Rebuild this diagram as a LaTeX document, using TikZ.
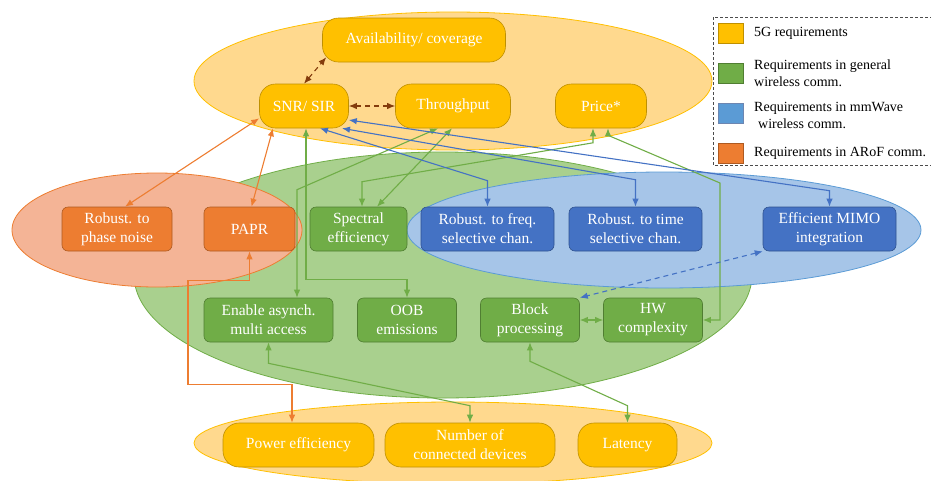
\documentclass[tikz,border=0pt]{standalone}
\usepackage{fontspec}
\setmainfont{Liberation Serif}
\usetikzlibrary{arrows.meta}
\definecolor{gold}{HTML}{FFC000}
\definecolor{golddark}{HTML}{BF9000}
\definecolor{goldzone}{HTML}{FFD98E}
\definecolor{leaf}{HTML}{70AD47}
\definecolor{leafdark}{HTML}{507E32}
\definecolor{leafzone}{HTML}{A9D08E}
\definecolor{sky}{HTML}{5B9BD5}
\definecolor{skyzone}{HTML}{A6C5E8}
\definecolor{navy}{HTML}{4472C4}
\definecolor{navydark}{HTML}{2F528F}
\definecolor{rust}{HTML}{ED7D31}
\definecolor{rustdark}{HTML}{AE5A21}
\definecolor{rustzone}{HTML}{F4B496}
\definecolor{brownline}{HTML}{843C0C}
\begin{document}
\begin{tikzpicture}[x=1pt,y=-1pt,
    req/.style={minimum height=44pt,inner sep=0pt,align=center,text=white,
        font=\fontsize{15.5}{19}\selectfont,line width=0.6pt},
    req5g/.style={req,fill=gold,draw=golddark,rounded corners=16pt},
    reqgen/.style={req,fill=leaf,draw=leafdark,rounded corners=6pt},
    reqmm/.style={req,fill=navy,draw=navydark,rounded corners=6pt},
    reqarof/.style={req,fill=rust,draw=rustdark,rounded corners=6pt},
    zone/.style={line width=0.8pt},
    link/.style={line width=1.1pt,{Latex[length=8pt,width=6.5pt]}-{Latex[length=8pt,width=6.5pt]}},
    dashlink/.style={link,dash pattern=on 5pt off 4pt},
    swatch/.style={minimum width=25pt,minimum height=20pt,inner sep=0pt,line width=0.6pt},
    legtext/.style={anchor=west,align=left,inner sep=0pt,font=\fontsize{14}{17}\selectfont}]
    \useasboundingbox (0,0) rectangle (931,480);

    % groups
    \draw[zone,fill=goldzone,draw=gold] (453,81) ellipse [x radius=259,y radius=69];
    \draw[zone,fill=goldzone,draw=gold] (453,443) ellipse [x radius=259,y radius=41];
    \draw[zone,fill=leafzone,draw=leaf] (443,275) ellipse [x radius=309,y radius=123];
    \draw[zone,fill=rustzone,draw=rust] (157,230) ellipse [x radius=145,y radius=57];
    \draw[zone,fill=skyzone,draw=sky] (664,230) ellipse [x radius=257,y radius=58];

    % 5G requirements
    \node[req5g,minimum width=183pt] (avail) at (414,40) {Availability/ coverage};
    \node[req5g,minimum width=89pt] (snr) at (304,106) {SNR/ SIR};
    \node[req5g,minimum width=115pt] (thru) at (453,106) {Throughput};
    \node[req5g,minimum width=91pt] (price) at (601,106) {Price*};
    \node[req5g,minimum width=151pt] (power) at (298.5,445) {Power efficiency};
    \node[req5g,minimum width=170pt] (devices) at (470,445) {Number of\\connected devices};
    \node[req5g,minimum width=99pt] (latency) at (627.5,445) {Latency};

    % ARoF, general and mmWave requirements
    \node[reqarof,minimum width=110pt] (phase) at (117,229) {Robust. to\\phase noise};
    \node[reqarof,minimum width=91pt] (papr) at (249.5,229) {PAPR};
    \node[reqgen,minimum width=97pt] (spec) at (358.5,229) {Spectral\\efficiency};
    \node[reqmm,minimum width=133pt] (freq) at (487.5,229) {Robust. to freq.\\selective chan.};
    \node[reqmm,minimum width=133pt] (time) at (635.5,229) {Robust. to time\\selective chan.};
    \node[reqmm,minimum width=133pt] (mimo) at (829.5,229) {Efficient MIMO\\integration};
    \node[reqgen,minimum width=129pt] (async) at (268.5,320) {Enable asynch.\\multi access};
    \node[reqgen,minimum width=99pt] (oob) at (407,320) {OOB\\emissions};
    \node[reqgen,minimum width=99pt] (block) at (530,320) {Block\\processing};
    \node[reqgen,minimum width=99pt] (hw) at (653,320) {HW\\complexity};

    % links
    \draw[dashlink,brownline] (snr.north) -- ([xshift=4pt,yshift=5pt]avail.south west);
    \draw[dashlink,brownline] (snr.east) -- (thru.west);
    \draw[link,rust] ([yshift=10pt]snr.south west) -- ([xshift=8pt]phase.north);
    \draw[link,rust] ([xshift=-31pt]snr.south) -- ([xshift=2pt]papr.north);
    \draw[link,leaf] ([xshift=2pt]snr.south) -- ++(0,151.5) -| (oob.north);
    \draw[link,leaf] ([xshift=-15pt]thru.south) -- ([xshift=28.5pt,yshift=108pt]async.north) -- ([xshift=28.5pt]async.north);
    \draw[link,leaf] ([xshift=-1pt]thru.south) -- ([xshift=18.5pt]spec.north);
    \draw[link,leaf] ([xshift=-8pt]price.south) -- ++(0,14.5) -- ([xshift=3.5pt,yshift=25pt]spec.north) -- ([xshift=3.5pt]spec.north);
    \draw[link,leaf] ([xshift=7pt]price.south) -- ++(0,7) -- (720,183) |- (hw.east);
    \draw[link,navy] ([xshift=16pt]snr.south) -- ([yshift=26pt]freq.north) -- (freq.north);
    \draw[link,navy] ([xshift=38pt]snr.south) -- ([yshift=27pt]time.north) -- (time.north);
    \draw[link,navy] ([yshift=-14pt]snr.east) -- ([yshift=16pt]mimo.north) -- (mimo.north);
    \draw[dashlink,navy] (mimo.south west) -- (block.north east);
    \draw[link,leaf] (block.east) -- (hw.west);
    \draw[link,rust] (papr.south) -- ++(0,29) -- ++(-61.5,0) -- ++(0,104) -| ([xshift=-6.5pt]power.north);
    \draw[link,leaf] (async.south) -- ++(0,21) -- ([yshift=17pt]devices.north) -- (devices.north);
    \draw[link,leaf] (block.south) -- ++(0,19) -- ([yshift=17pt]latency.north) -- (latency.north);

    % legend
    \draw[gray!60!black,line width=0.8pt,dash pattern=on 3pt off 2pt] (713,17) rectangle (950,165);
    \node[swatch,fill=gold,draw=golddark] (sw5g) at (730.5,33) {};
    \node[swatch,fill=leaf,draw=leafdark] (swgen) at (730.5,73) {};
    \node[swatch,fill=sky,draw=navydark!70] (swmm) at (730.5,113.5) {};
    \node[swatch,fill=rust,draw=rustdark] (swarof) at (730.5,153) {};
    \node[legtext] (lg5g) at (754,33) {5G requirements};
    \node[legtext] (lggen) at (754,73) {Requirements in general\\wireless comm.};
    \node[legtext] (lgmm) at (754,115) {Requirements in mmWave\\\hspace*{4pt}wireless comm.};
    \node[legtext] (lgarof) at (754,153) {Requirements in ARoF comm.};
\end{tikzpicture}
\end{document}
